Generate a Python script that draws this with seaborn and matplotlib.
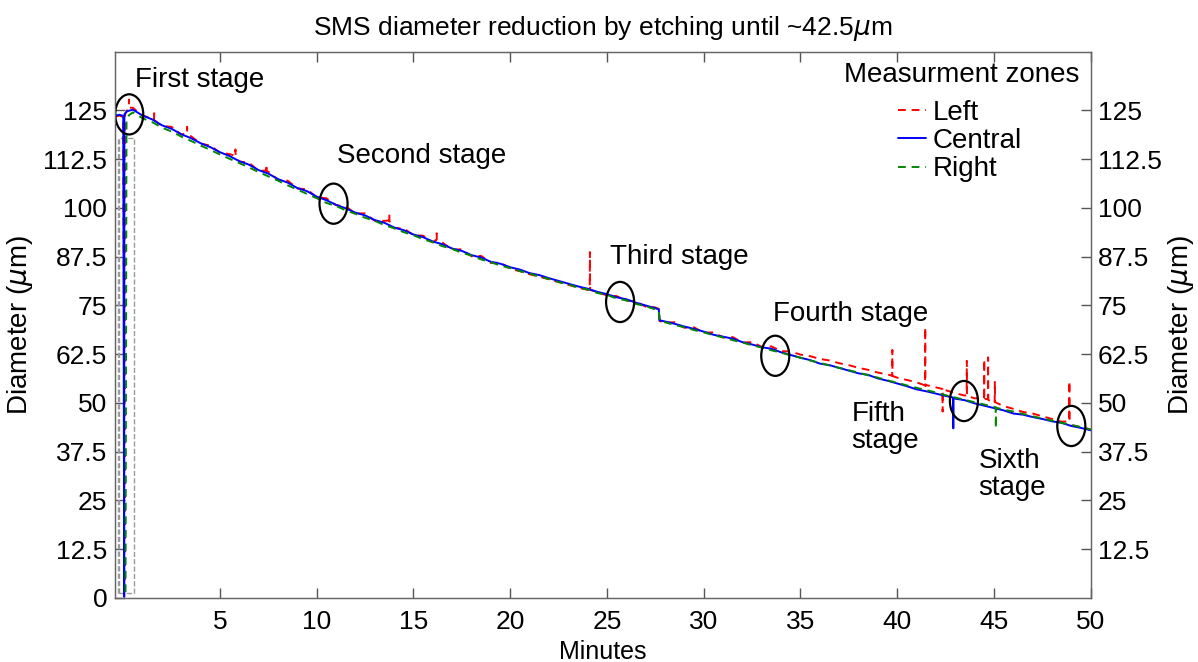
import numpy as np
import pandas as pd
import matplotlib
matplotlib.use("Agg")
import matplotlib.pyplot as plt
import seaborn as sns
from matplotlib.patches import Ellipse, Rectangle

# ---------------- data ----------------
grid_minutes = np.arange(1, 101) * 0.5   # sampling instants 0.5 ... 50 min

central_values = [125.2, 123.7, 122.7, 121.2, 120.3, 118.9, 117.9, 116.6, 115.6, 114.3,
                  113.3, 112.0, 111.1, 109.7, 108.8, 107.4, 106.5, 105.1, 104.3, 102.9,
                  102.0, 100.8, 99.9, 98.8, 98.1, 96.9, 96.2, 95.0, 94.3, 93.2,
                  92.5, 91.4, 90.7, 89.6, 89.0, 87.9, 87.3, 86.2, 85.7, 84.8,
                  84.2, 83.3, 82.8, 82.0, 81.3, 80.6, 79.9, 79.3, 78.5, 77.9,
                  77.1, 76.6, 75.7, 75.0, 74.3, 70.9, 70.3, 69.6, 69.0, 68.3,
                  67.5, 67.0, 66.5, 65.6, 65.0, 64.3, 63.9, 63.0, 62.3, 61.6,
                  61.0, 60.1, 59.7, 59.0, 58.3, 57.6, 57.2, 56.3, 55.7, 55.0,
                  54.3, 53.5, 53.0, 52.4, 51.8, 51.1, 50.7, 49.9, 49.3, 48.7,
                  48.1, 47.3, 47.0, 46.4, 45.9, 45.3, 44.9, 44.1, 43.6, 43.0]

left_values = [125.7, 123.6, 123.1, 121.0, 120.8, 118.8, 118.4, 116.5, 116.0, 114.2,
               113.8, 111.9, 111.6, 109.5, 109.3, 107.2, 107.0, 105.0, 104.8, 102.7,
               102.5, 100.7, 100.4, 98.6, 98.6, 96.7, 96.7, 94.8, 94.8, 93.0,
               92.9, 91.2, 91.1, 89.3, 89.4, 87.6, 87.7, 85.9, 86.0, 84.4,
               83.8, 83.0, 82.4, 81.7, 81.0, 80.3, 79.6, 79.0, 78.4, 77.6,
               77.4, 76.3, 76.0, 74.7, 74.5, 70.6, 70.7, 69.3, 69.4, 68.0,
               68.1, 66.8, 66.9, 65.5, 65.6, 64.4, 64.5, 63.3, 63.2, 62.4,
               62.0, 61.3, 60.9, 60.2, 59.7, 59.0, 58.5, 57.8, 57.3, 56.5,
               55.9, 55.3, 54.6, 54.0, 53.3, 52.5, 51.9, 51.2, 50.6, 49.9,
               49.2, 48.5, 47.7, 47.3, 46.6, 45.9, 45.2, 44.3, 43.8, 43.2]

right_values = [124.5, 123.0, 122.0, 120.6, 119.6, 118.3, 117.2, 116.0, 114.9, 113.7,
                112.6, 111.5, 110.4, 109.2, 108.1, 107.0, 105.8, 104.7, 103.6, 102.5,
                101.3, 100.5, 99.4, 98.5, 97.5, 96.7, 95.6, 94.8, 93.8, 93.0,
                92.0, 91.2, 90.2, 89.5, 88.5, 87.8, 86.8, 86.1, 85.2, 84.6,
                83.8, 83.2, 82.4, 81.8, 81.0, 80.4, 79.6, 79.1, 78.2, 77.7,
                76.8, 76.3, 75.4, 74.8, 74.0, 70.7, 70.0, 69.4, 68.7, 68.1,
                67.4, 66.8, 66.1, 65.5, 64.8, 64.2, 63.5, 62.9, 62.2, 61.6,
                60.9, 60.3, 59.6, 59.0, 58.4, 57.8, 57.1, 56.5, 55.8, 55.2,
                54.5, 53.9, 53.3, 52.7, 52.0, 51.4, 50.8, 50.2, 49.6, 49.0,
                48.3, 47.8, 47.2, 46.6, 46.0, 45.5, 44.9, 44.4, 43.8, 43.2]

# start of the recording (sensor drop-outs)
left_start_minutes = [-0.4, -0.2, 0.0, 0.08, 0.1, 0.2]
left_start_values = [123.4, 123.7, 123.3, 4.0, 124.2, 125.0]
central_start_minutes = [-0.4, -0.2, 0.0, 0.05, 0.06, 0.2]
central_start_values = [123.7, 123.9, 123.6, 0.3, 124.0, 124.8]
right_start_minutes = [0.12, 0.17, 0.3]
right_start_values = [1.5, 122.8, 123.8]

# the abrupt step near 27.7 min
left_step_minutes = [27.68, 27.72]
left_step_values = [74.1, 71.0]
central_step_minutes = [27.68, 27.72]
central_step_values = [74.0, 71.2]
right_step_minutes = [27.68, 27.72]
right_step_values = [73.8, 71.0]

# isolated spikes
left_spike_minutes = [0.29, 0.30, 0.31, 1.59, 1.60, 1.61, 3.29, 3.30, 3.31,
                      5.79, 5.80, 5.81, 7.39, 7.40, 7.41, 13.74, 13.75, 13.76,
                      16.19, 16.20, 16.21, 24.11, 24.12, 24.13, 39.74, 39.75, 39.76,
                      41.44, 41.45, 41.46, 42.34, 42.35, 42.36, 43.59, 43.60, 43.61,
                      44.49, 44.50, 44.51, 44.69, 44.70, 44.71, 45.04, 45.05, 45.06,
                      48.89, 48.90, 48.91]
left_spike_values = [125.6, 127.8, 125.7, 122.7, 124.3, 122.5, 119.2, 120.8, 119.0,
                     113.4, 115.0, 113.2, 109.6, 111.2, 109.4, 96.8, 98.4, 96.6,
                     91.9, 93.5, 91.7, 79.1, 88.7, 79.0, 57.0, 63.6, 56.9,
                     54.5, 69.4, 54.3, 53.6, 47.8, 53.4, 52.0, 60.8, 51.8,
                     51.2, 61.2, 51.0, 51.0, 61.7, 50.8, 50.4, 55.6, 50.2,
                     45.3, 55.6, 45.1]
central_spike_minutes = [42.89, 42.90, 42.91]
central_spike_values = [51.4, 43.5, 51.3]
right_spike_minutes = [45.09, 45.10, 45.11]
right_spike_values = [48.9, 43.5, 48.8]

zone_names = ["Left", "Central", "Right"]

stage_names = ["First stage", "Second stage", "Third stage", "Fourth stage",
               "Fifth\nstage", "Sixth\nstage"]
stage_minutes = [0.31, 10.87, 25.68, 33.7, 43.45, 49.0]
stage_diameters = [124.0, 101.1, 75.9, 62.1, 50.5, 44.1]

left_ticks = [0, 12.5, 25, 37.5, 50, 62.5, 75, 87.5, 100, 112.5, 125]
right_ticks = [12.5, 25, 37.5, 50, 62.5, 75, 87.5, 100, 112.5, 125]
x_ticks = [5, 10, 15, 20, 25, 30, 35, 40, 45, 50]


def build(start_m, start_v, vals, step_m, step_v, sp_m, sp_v):
    m = list(start_m) + list(grid_minutes) + list(step_m) + list(sp_m)
    v = list(start_v) + list(vals) + list(step_v) + list(sp_v)
    return pd.DataFrame({"minutes": m, "diameter": v}).sort_values("minutes")


df_left = build(left_start_minutes, left_start_values, left_values,
                left_step_minutes, left_step_values,
                left_spike_minutes, left_spike_values)
df_central = build(central_start_minutes, central_start_values, central_values,
                   central_step_minutes, central_step_values,
                   central_spike_minutes, central_spike_values)
df_right = build(right_start_minutes, right_start_values, right_values,
                 right_step_minutes, right_step_values,
                 right_spike_minutes, right_spike_values)

# ---------------- figure ----------------
sns.set_style("ticks")
plt.rcParams["font.family"] = ["Liberation Sans", "DejaVu Sans"]
plt.rcParams["mathtext.fontset"] = "dejavusans"
plt.rcParams["text.color"] = "black"

fig = plt.figure(figsize=(11.98, 6.62), dpi=100)
ax = fig.add_axes([0.0964, 0.0967, 0.8140, 0.8248])

styles = [("#ff0000", (0, (4, 3))), ("#0000ff", "-"), ("#008800", (0, (4, 3)))]
handles = []
for df, (col, ls) in zip([df_left, df_central, df_right], styles):
    sns.lineplot(data=df, x="minutes", y="diameter", ax=ax, color=col,
                 linewidth=1.4, linestyle=ls, estimator=None, sort=False,
                 legend=False)
    handles.append(ax.lines[-1])

# dashed gray marker box at the start
ax.add_patch(Rectangle((-0.2, 1.3), 0.77, 116.7, fill=False, ec="#9a9a9a",
                       ls="--", lw=1.0, zorder=1))
ax.plot([-0.29, -0.29], [1.3, 118], color="#9a9a9a", ls="--", lw=1.0, zorder=1)

for cx, cy in zip(stage_minutes, stage_diameters):
    ax.add_patch(Ellipse((cx, cy), 1.45, 10.3, fill=False, ec="black",
                         lw=1.6, zorder=6))

label_pos = [(0.62, 132.7), (11.07, 113.2), (25.18, 87.4), (33.57, 72.8),
             (37.64, 43.7), (44.2, 31.6)]
for name, (lx, ly) in zip(stage_names, label_pos):
    ax.text(lx, ly, name, fontsize=20, ha="left", va="center",
            linespacing=1.05, zorder=7, color="black")

ax.set_xlim(-0.4, 50)
ax.set_ylim(0, 140)
ax.set_xticks(x_ticks)
ax.set_xticklabels([f"{t:g}" for t in x_ticks])
ax.set_yticks(left_ticks)
ax.set_yticklabels([f"{t:g}" for t in left_ticks])
ax.tick_params(axis="both", direction="in", length=7, width=1,
               color="#555555", labelcolor="black", labelsize=19,
               top=True, right=False)
ax.tick_params(axis="x", pad=9)
ax.tick_params(axis="y", pad=6)
for s in ax.spines.values():
    s.set_color("#666666")
    s.set_linewidth(1.0)

ax.set_xlabel("Minutes", fontsize=18, labelpad=4, color="black")
ax.set_ylabel(r"Diameter ($\mu$m)", fontsize=20, labelpad=6, color="black")
ax.set_title("SMS diameter reduction by etching until ~42.5$\\mu$m",
             fontsize=19, pad=12, color="black")

ax2 = ax.twinx()
ax2.set_ylim(0, 140)
ax2.set_yticks(right_ticks)
ax2.set_yticklabels([f"{t:g}" for t in right_ticks])
ax2.tick_params(axis="y", direction="in", length=7, width=1, color="#555555",
                labelcolor="black", labelsize=19, pad=5)
for s in ax2.spines.values():
    s.set_color("#666666")
ax2.set_ylabel(r"Diameter ($\mu$m)", fontsize=20, labelpad=3, color="black")

# legend title as separate text, entries below it
ax.text(1 - 11 / 975, 1 - 23 / 546, "Measurment zones", transform=ax.transAxes,
        ha="right", va="center", fontsize=20, color="black", zorder=10)
leg = ax.legend(handles, zone_names, loc="upper right",
                bbox_to_anchor=((1022 - 115.5) / 975, 1 - 48 / 546),
                frameon=False, fontsize=20, handlelength=1.0,
                handletextpad=0.25, labelspacing=0.08,
                borderaxespad=0, borderpad=0, labelcolor="black")
leg.set_zorder(10)

fig.savefig("out.png", dpi=100)
